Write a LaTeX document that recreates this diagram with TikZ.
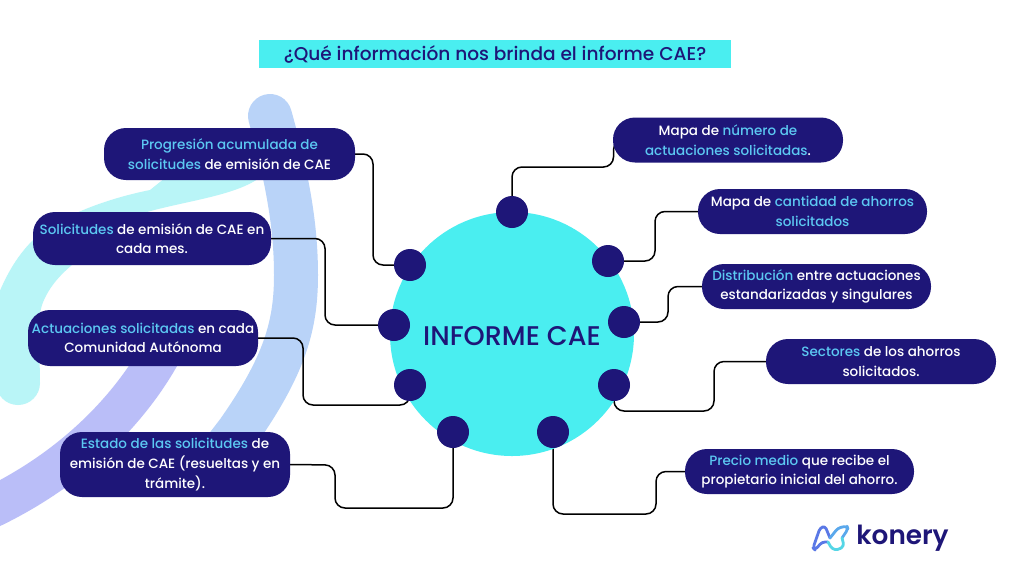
\documentclass[tikz,border=0pt]{standalone}
\usepackage{fontspec}
\setmainfont{Poppins}[UprightFont=* Medium,BoldFont=* SemiBold]
\definecolor{navy}{HTML}{1E1678}
\definecolor{sky}{HTML}{5CC8F2}
\definecolor{aqua}{HTML}{4AEEF0}
\definecolor{bandcyan}{HTML}{B9F5F7}
\definecolor{bandblue}{HTML}{B9D3F8}
\definecolor{bandperi}{HTML}{BABEF8}
\definecolor{logoa}{HTML}{5A78E6}
\definecolor{logob}{HTML}{5AA8EC}
\definecolor{logoc}{HTML}{55D6E6}
\newcommand{\hl}[1]{{\color{sky}#1}}
\pgfdeclarelayer{back}
\pgfdeclarelayer{mid}
\pgfsetlayers{back,mid,main}
\tikzset{
  x=1pt,y=-1pt,
  pill/.style={fill=navy,text=white,rounded corners=22pt,inner sep=0pt,align=center,font=\fontsize{13.5}{19.6}\selectfont},
  dot/.style={circle,fill=navy,minimum size=32pt,inner sep=0pt},
  link/.style={draw=black,line width=1.5pt,rounded corners=10pt},
  band/.style={line width=44pt,line cap=round},
  logoline/.style={line width=2.8pt,line cap=round,line join=round},
}
\begin{document}
\begin{tikzpicture}
\useasboundingbox (0,0) rectangle (1024,576);
\begin{pgfonlayer}{back}
\fill[white] (0,0) rectangle (1024,576);
\begin{scope}
\clip (0,0) rectangle (1024,576);
\fill[bandcyan] (40,383) .. controls (40,350) and (36,325) .. (42,305) .. controls (48,288) and (60,275) .. (72,265) .. controls (95,240) and (125,222) .. (147,212) .. controls (190,200) and (240,195) .. (263,175) -- (255,150) -- (200,150) -- (150,190) .. controls (110,198) and (60,215) .. (33,240) .. controls (15,258) and (5,278) .. (-4,300) -- (-4,383) arc[start angle=180,end angle=360,radius=22pt] -- cycle;
\draw[band,draw=bandblue] (270,116) .. controls (285,170) and (296,220) .. (296,275) .. controls (296,325) and (285,365) .. (238,432) -- (215,462);
\draw[band,draw=bandperi,line width=41pt] (165,345) .. controls (145,385) and (90,465) .. (-25,515);
\end{scope}
\end{pgfonlayer}
% title
\node[fill=aqua,minimum width=472pt,minimum height=28pt,inner sep=0pt,text=navy,font=\fontsize{18.55}{20}\selectfont] (title) at (495,54) {¿Qué información nos brinda el informe CAE?};
% hub
\node[circle,fill=aqua,minimum size=244pt,inner sep=0pt] (hub) at (512,334) {};
\node[text=navy,font=\fontsize{27}{30}\selectfont,inner sep=0pt] (hubtext) at (512,336) {INFORME CAE};
% pills
\node[pill,minimum width=251pt,minimum height=52pt] (p1) at (229.5,154) {\hl{Progresión acumulada de}\\\hl{solicitudes} de emisión de CAE};
\node[pill,minimum width=238pt,minimum height=53pt] (p2) at (152,238.5) {\hl{Solicitudes} de emisión de CAE en\\cada mes.};
\node[pill,minimum width=230pt,minimum height=56pt] (p3) at (143,338) {\hl{Actuaciones solicitadas} en cada\\Comunidad Autónoma};
\node[pill,minimum width=230pt,minimum height=65pt] (p4) at (175,464.5) {\hl{Estado de las solicitudes} de\\emisión de CAE (resueltas y en\\trámite).};
\node[pill,minimum width=230pt,minimum height=45pt] (r1) at (728,140) {Mapa de \hl{número de}\\\hl{actuaciones solicitadas}.};
\node[pill,minimum width=229pt,minimum height=45pt] (r2) at (812.5,211.5) {Mapa de \hl{cantidad de ahorros}\\\hl{solicitados}};
\node[pill,minimum width=229pt,minimum height=45pt] (r3) at (816.5,286.5) {\hl{Distribución} entre actuaciones\\estandarizadas y singulares};
\node[pill,minimum width=230pt,minimum height=45pt] (r4) at (881,361.5) {\hl{Sectores} de los ahorros\\solicitados.};
\node[pill,minimum width=229pt,minimum height=45pt] (r5) at (799.5,471.5) {\hl{Precio medio} que recibe el\\propietario inicial del ahorro.};
% dots
\node[dot] (d1) at (410,265) {};
\node[dot] (d2) at (394,325) {};
\node[dot] (d3) at (410,385) {};
\node[dot] (d4) at (453,432) {};
\node[dot] (e1) at (512,212) {};
\node[dot] (e2) at (608,261) {};
\node[dot] (e3) at (624,322) {};
\node[dot] (e4) at (614,385) {};
\node[dot] (e5) at (553,432) {};
% connectors
\begin{pgfonlayer}{mid}
\draw[link] (p1.east) -- (373,154) -- (373,265) -- (d1.center);
\draw[link] (p2.east) -- (325,238.5) -- (325,325) -- (d2.center);
\draw[link] (p3.east) -- (303,338) -- (303,405) -- (410,405) -- (d3.center);
\draw[link] (p4.east) -- (335,465) -- (335,508) -- (453,508) -- (d4.center);
\draw[link] (e1.center) -- (512,167) -- (613.5,167) -- (613.5,140) -- (r1.center);
\draw[link] (e2.center) -- (655,261) -- (655,211.5) -- (r2.center);
\draw[link] (e3.center) -- (668,322) -- (668,286.5) -- (r3.center);
\draw[link] (e4.center) -- (614,411) -- (714,411) -- (714,361.5) -- (r4.center);
\draw[link] (e5.center) -- (553,514) -- (656,514) -- (656,471.5) -- (r5.center);
\end{pgfonlayer}
% logo
\draw[logoline,draw=logoa,rounded corners=3pt] (828,542) -- (822,542) -- (815,550) -- (813,548) -- (820,528) -- (825,526) -- (830,538);
\draw[logoline,draw=logob,rounded corners=3pt] (830,538) -- (838,528) -- (847,526) -- (848,529) -- (842,538);
\draw[logoline,draw=logoc,rounded corners=3pt] (842,538) -- (844,546) -- (838,550) -- (832,549) -- (828,542);
\node[text=navy,font=\fontsize{26.3}{30}\selectfont\bfseries,inner sep=0pt] (logo) at (902.5,538) {konery};
\end{tikzpicture}
\end{document}
